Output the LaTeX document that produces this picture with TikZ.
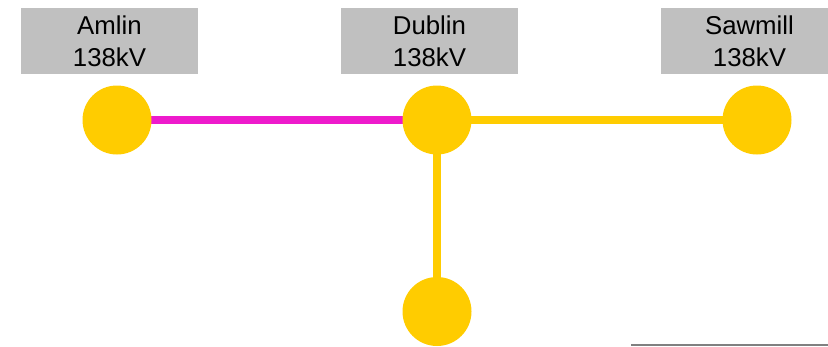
\documentclass[tikz,border=0pt]{standalone}
\usepackage{fontspec}
\setmainfont{Liberation Sans}
\usetikzlibrary{backgrounds}
\definecolor{busyellow}{HTML}{FFCC00}
\definecolor{linemag}{HTML}{EE1ACC}
\definecolor{lblgray}{HTML}{C0C0C0}
\definecolor{rulegray}{HTML}{808080}
\tikzset{
  lbl/.style={fill=lblgray, minimum width=177pt, minimum height=66pt, inner sep=0pt,
    align=center, font=\fontsize{25.8}{31.7}\selectfont, text=black},
  bus/.style={circle, fill=busyellow, minimum size=69pt, inner sep=0pt},
  magline/.style={draw=linemag, line width=7.7pt},
  yelline/.style={draw=busyellow, line width=7.7pt},
  rule/.style={draw=rulegray, line width=1.6pt}
}
\begin{document}
\begin{tikzpicture}[x=1pt,y=-1pt]
\useasboundingbox (0,0) rectangle (828,346);
\clip (0,0) rectangle (828,346);
\node[lbl] (lA) at (109.5,41) {Amlin\\138kV};
\node[lbl] (lD) at (429.5,41) {Dublin\\138kV};
\node[lbl] (lS) at (749.5,41) {Sawmill\\138kV};
\node[bus] (A) at (117,120) {};
\node[bus] (D) at (437,120) {};
\node[bus] (S) at (757,120) {};
\node[bus] (B) at (437,311.5) {};
\begin{scope}[on background layer]
\draw[magline] (A.center) -- (D.center);
\draw[yelline] (D.center) -- (S.center);
\draw[yelline] (D.center) -- (B.center);
\end{scope}
\coordinate (r1) at (631,345.2);
\coordinate (r2) at (828,345.2);
\draw[rule] (r1) -- (r2);
\end{tikzpicture}
\end{document}
